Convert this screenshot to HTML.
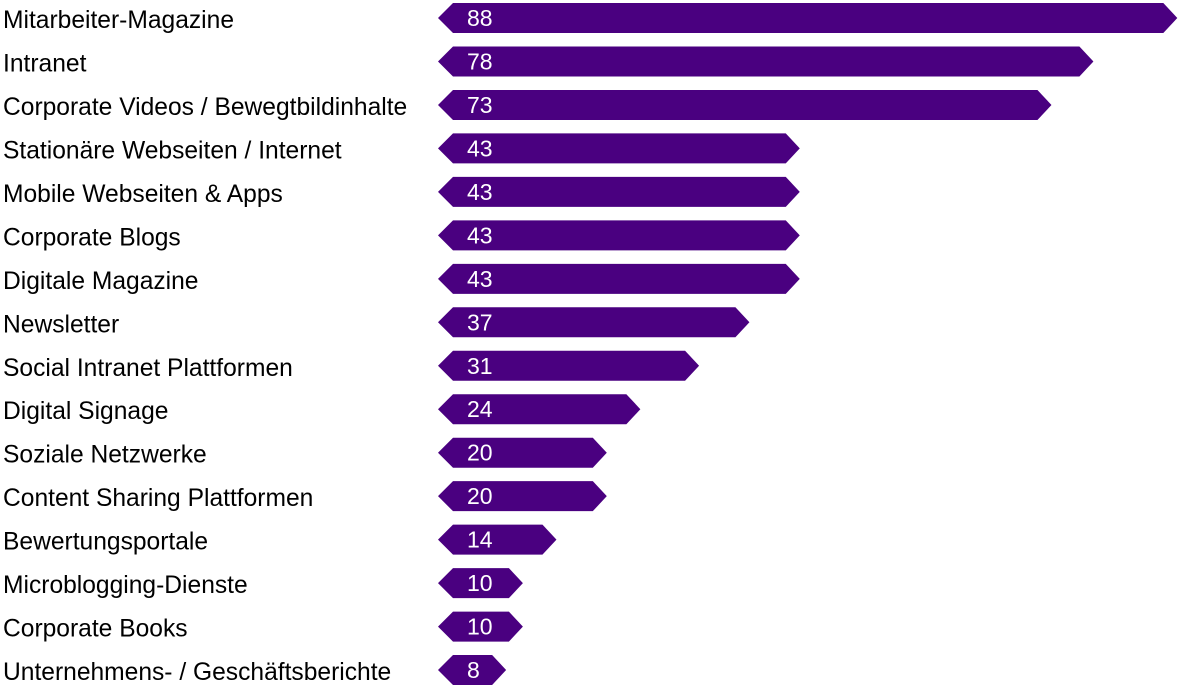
<!DOCTYPE html>
<html><head><style>
body{margin:0;background:#fff;width:1180px;height:692px;overflow:hidden}
</style></head><body>
<svg width="1180" height="692" xmlns="http://www.w3.org/2000/svg" font-family="Liberation Sans, sans-serif">
<g id="g"></g>
</svg>
<script>
const d=[["Mitarbeiter-Magazine",88],["Intranet",78],["Corporate Videos / Bewegtbildinhalte",73],["Stationäre Webseiten / Internet",43],["Mobile Webseiten & Apps",43],["Corporate Blogs",43],["Digitale Magazine",43],["Newsletter",37],["Social Intranet Plattformen",31],["Digital Signage",24],["Soziale Netzwerke",20],["Content Sharing Plattformen",20],["Bewertungsportale",14],["Microblogging-Dienste",10],["Corporate Books",10],["Unternehmens- / Geschäftsberichte",8]];
let s="";
d.forEach((r,i)=>{const c=18+i*43.47,t=c-15,b=c+15,tip=439+8.39*r[1];
s+=`<polygon points="438,${c} 453,${t} ${tip-14},${t} ${tip},${c} ${tip-14},${b} 453,${b}" fill="#4a0080"/>`;
s+=`<text x="3" y="${c+10}" font-size="24.6" fill="#000">${r[0].replace('&','&amp;')}</text>`;
s+=`<text x="467" y="${c+8}" font-size="23" fill="#fff">${r[1]}</text>`;});
document.getElementById('g').innerHTML=s;
</script>
</body></html>
